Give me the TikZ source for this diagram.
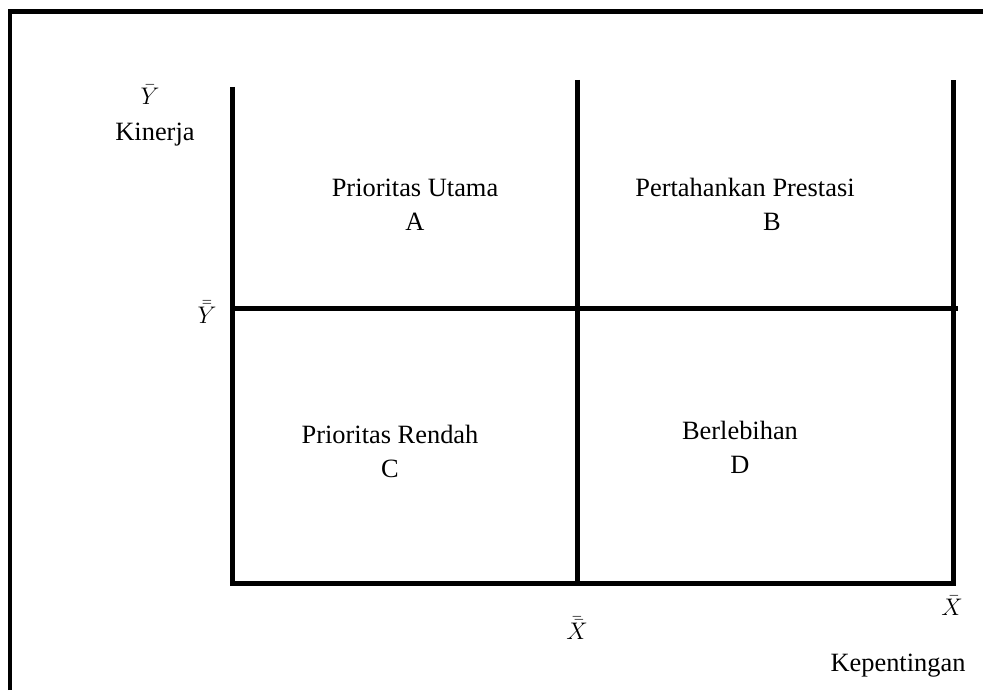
\documentclass[tikz,border=0pt]{standalone}
\usepackage{fontspec}
\setmainfont{Liberation Serif}
\begin{document}
\begin{tikzpicture}[x=0.5pt,y=-0.5pt,
    axis/.style={line width=2.5pt},
    lbl/.style={font=\fontsize{13.2}{17}\selectfont, align=center, inner sep=1pt}]
    \useasboundingbox (0,0) rectangle (983,690);
    % outer frame
    \draw[line width=2.4pt] (10,690) -- (10,11.5) -- (983,11.5);

    % quadrant lines
    \coordinate (o) at (232,583);
    \coordinate (ytop) at (232,87);
    \coordinate (ymid) at (232,308);
    \coordinate (xmid) at (577,583);
    \coordinate (xend) at (953,583);
    \coordinate (mtop) at (577,80);
    \coordinate (rtop) at (953,80);
    \coordinate (rmid) at (958,308);
    \draw[axis] (ytop) -- (o) -- (xend) -- (rtop);
    \draw[axis] (mtop) -- (xmid);
    \draw[axis] (ymid) -- (rmid);

    % axis labels
    \node[lbl] (ybar) at (150,95) {$\bar{Y}$};
    \node[lbl] (kinerja) at (155,135) {Kinerja};
    \node[lbl] (ybarbar) at (207,312) {$\bar{\bar{Y}}$};
    \node[lbl] (xbarbar) at (577,628) {$\bar{\bar{X}}$};
    \node[lbl] (xbar) at (952,606) {$\bar{X}$};
    \node[lbl] (kepentingan) at (898,666) {Kepentingan};

    % quadrants
    \node[lbl] (qa) at (415,205) {Prioritas Utama\\A};
    \node[lbl] (qb) at (745,204) {Pertahankan Prestasi\\\hspace*{27pt}B};
    \node[lbl] (qc) at (390,451) {Prioritas Rendah\\C};
    \node[lbl] (qd) at (740,447) {Berlebihan\\D};
\end{tikzpicture}
\end{document}
